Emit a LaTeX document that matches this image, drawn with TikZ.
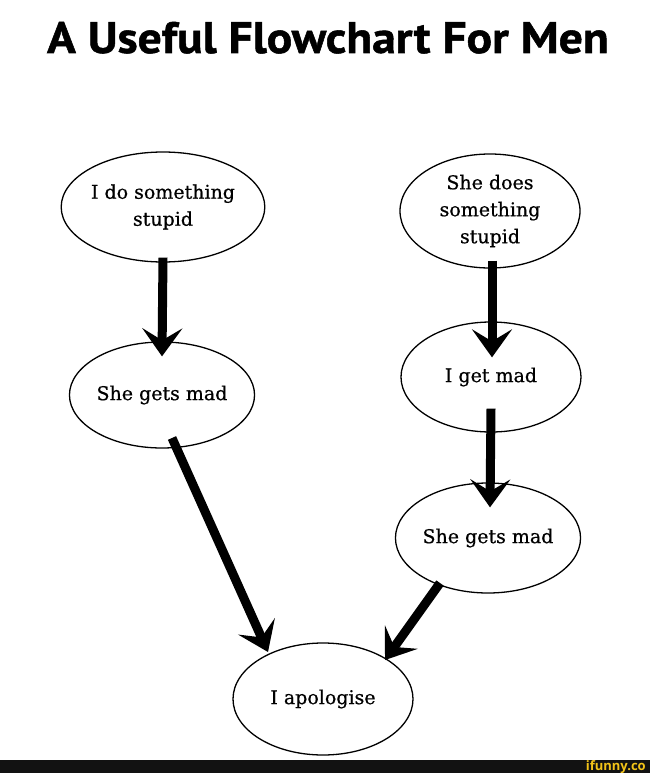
\documentclass[tikz,border=0pt]{standalone}
\usepackage{fontspec}
\setmainfont{DejaVu Serif}[FakeBold=0.6]
\newfontfamily\titlefont{PT Sans}[FakeStretch=1.08, BoldFeatures={FakeBold=1.2, FakeStretch=1.08}]
\newfontfamily\markfont{Open Sans}
\usetikzlibrary{arrows.meta,shapes.geometric}
\definecolor{ifyellow}{HTML}{F2C318}
\begin{document}
\begin{tikzpicture}[x=1pt,y=-1pt,
  bubble/.style={draw, ellipse, line width=1.3pt, minimum width=180pt, minimum height=110pt,
    inner sep=0pt, align=center, font=\fontsize{19}{27}\selectfont},
  flow/.style={line width=9pt, -{Stealth[length=28pt,width=40pt,inset=12pt]}}]
\useasboundingbox (0,0) rectangle (650,773);
\fill[white] (0,0) rectangle (650,773);
\node[font=\titlefont\bfseries\fontsize{44}{48}\selectfont, anchor=base, inner sep=0pt] (title) at (328,53) {A Useful Flowchart For Men};
\node[bubble] (a) at (163,207) {I do something\\stupid};
\node[bubble, minimum height=114pt] (b) at (490,211) {She does\\something\\stupid};
\node[bubble, minimum height=106pt] (c) at (162,395) {She gets mad};
\node[bubble] (d) at (491,377) {I get mad};
\node[bubble] (e) at (488,538) {She gets mad};
\node[bubble, minimum height=112pt] (f) at (323,699) {I apologise};
\draw[flow] ([shift={(0,-5)}]a.south) -- ([shift={(0,15)}]c.north);
\draw[flow] ([shift={(2,-8)}]b.south) -- ([shift={(1,36)}]d.north);
\draw[flow] ([shift={(0,-24)}]d.south) -- ([shift={(2,25)}]e.north);
\draw[flow] ([shift={(10,43)}]c.center) -- ([shift={(-55,-47)}]f.center);
\draw[flow] ([shift={(-48,45)}]e.center) -- ([shift={(62,-39)}]f.center);
\fill[black!93] (0,760) rectangle (650,773);
\node[font=\markfont\bfseries\fontsize{13}{13}\selectfont, text=ifyellow, anchor=east, inner sep=0pt] (mark) at (646,767) {ifunny.co};
\end{tikzpicture}
\end{document}
